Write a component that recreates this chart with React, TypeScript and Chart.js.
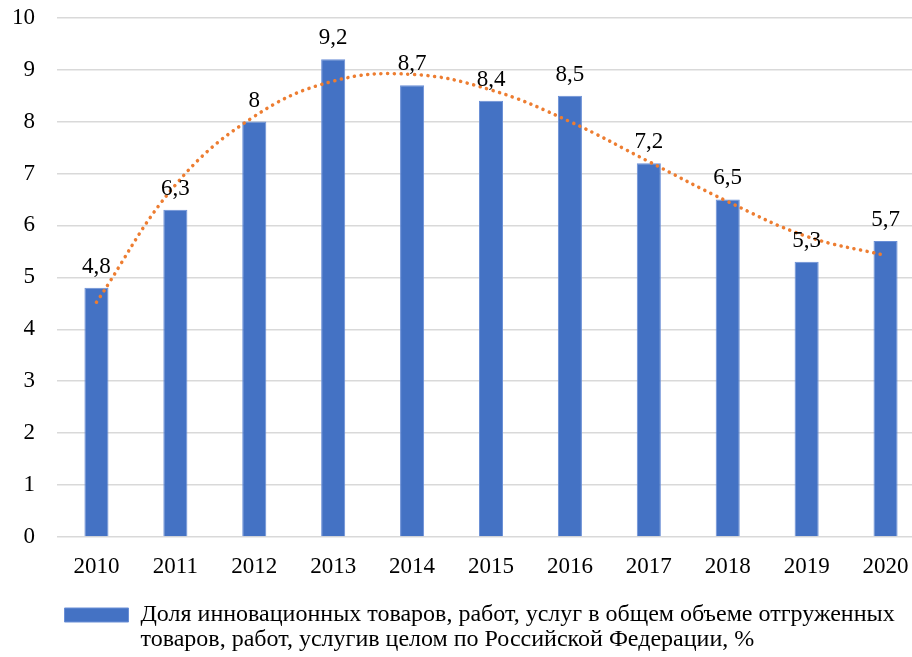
import React, { useEffect, useRef } from "react";
import { Chart, registerables } from "chart.js";

Chart.register(...registerables);

const years = ["2010", "2011", "2012", "2013", "2014", "2015", "2016", "2017", "2018", "2019", "2020"];
const shares = [4.8, 6.3, 8, 9.2, 8.7, 8.4, 8.5, 7.2, 6.5, 5.3, 5.7];
const trend = [4.52, 6.78, 8.1, 8.78, 8.91, 8.61, 8.0, 7.23, 6.46, 5.79, 5.42];
const legendLines = [
  "Доля инновационных товаров, работ, услуг в общем объеме отгруженных",
  "товаров, работ, услугив целом по Российской Федерации, %",
];
const yTicks = [0, 1, 2, 3, 4, 5, 6, 7, 8, 9, 10];

const FONT = "'Liberation Serif', 'Times New Roman', serif";

const valueLabels = {
  id: "valueLabels",
  afterDatasetsDraw(chart: any) {
    const meta = chart.getDatasetMeta(0);
    const ctx = chart.ctx;
    ctx.save();
    ctx.font = `23px ${FONT}`;
    ctx.fillStyle = "#000000";
    ctx.textAlign = "center";
    ctx.textBaseline = "alphabetic";
    meta.data.forEach((bar: any, i: number) => {
      const v = shares[i];
      ctx.fillText(String(v).replace(".", ","), bar.x, bar.y - 15);
    });
    ctx.restore();
  },
};

// the legend text spans two lines; let its clip box cover both
const legendRoom = {
  id: "legendRoom",
  afterLayout(chart: any) {
    if (chart.legend) {
      chart.legend.bottom = chart.height;
      chart.legend.height = chart.legend.bottom - chart.legend.top;
    }
  },
};

export default function App() {
  const ref = useRef<HTMLCanvasElement | null>(null);

  useEffect(() => {
    if (!ref.current) return;
    const chart = new Chart(ref.current, {
      type: "bar",
      data: {
        labels: years,
        datasets: [
          {
            type: "bar",
            label: legendLines as any,
            data: shares,
            backgroundColor: "#4472C4",
            borderColor: "#6A8FD6",
            borderWidth: 1,
            barPercentage: 0.61,
            categoryPercentage: 0.5,
            order: 2,
          },
          {
            type: "line",
            label: "trend",
            data: trend,
            borderColor: "#ED7D31",
            borderWidth: 3.5,
            borderDash: [0.1, 6.6],
            borderCapStyle: "round",
            pointRadius: 0,
            tension: 0.4,
            fill: false,
            order: 1,
          } as any,
        ],
      },
      options: {
        animation: false,
        responsive: false,
        devicePixelRatio: 1,
        layout: { padding: { top: 16, left: 0, right: 0, bottom: 20 } },
        plugins: {
          tooltip: { enabled: false },
          legend: {
            position: "bottom",
            align: "start",
            fullSize: false,
            labels: {
              color: "#000000",
              font: { family: FONT, size: 24, lineHeight: 1.04 },
              boxWidth: 64,
              boxHeight: 14,
              padding: 7.5,
              filter: (item: any) => item.datasetIndex === 0,
            },
          },
        },
        scales: {
          x: {
            grid: { display: false },
            border: { display: false },
            ticks: {
              color: "#000000",
              font: { family: FONT, size: 23 },
              padding: 8,
              maxRotation: 0,
            },
            afterFit: (scale: any) => {
              scale.height += 7;
            },
          },
          y: {
            min: 0,
            max: 10,
            afterBuildTicks: (scale: any) => {
              scale.ticks = yTicks.map((v) => ({ value: v }));
            },
            grid: { color: "#D9D9D9", lineWidth: 1.5, drawTicks: false },
            border: { display: false },
            ticks: {
              color: "#000000",
              font: { family: FONT, size: 23 },
              padding: 22,
            },
          },
        },
      },
      plugins: [valueLabels, legendRoom],
    });
    return () => chart.destroy();
  }, []);

  return (
    <div
      style={{
        position: "fixed",
        left: 0,
        top: 0,
        width: 912,
        height: 657,
        overflow: "hidden",
        background: "#ffffff",
      }}
    >
      <canvas
        ref={ref}
        width={935}
        height={675}
        style={{ display: "block", position: "absolute", left: -10, top: -18 }}
      />
    </div>
  );
}
